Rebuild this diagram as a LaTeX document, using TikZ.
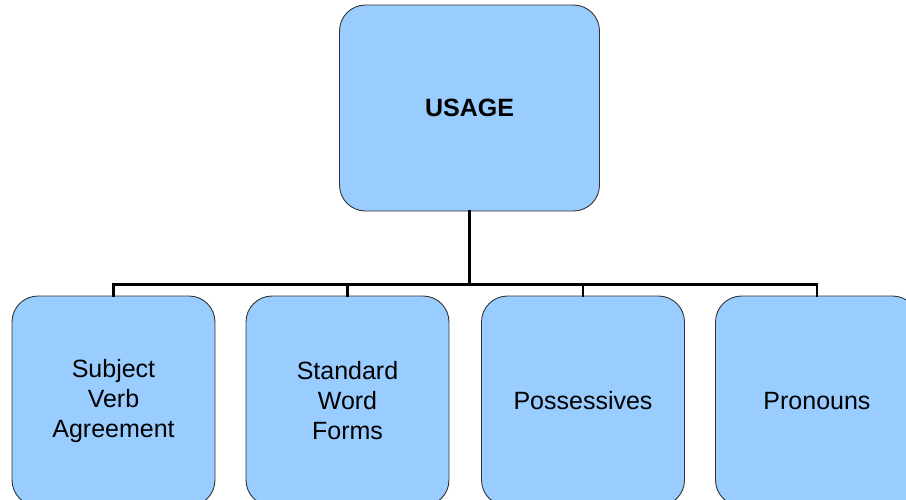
\documentclass[tikz,border=0pt]{standalone}
\usepackage{fontspec}
\setmainfont{Liberation Sans}
\definecolor{boxblue}{HTML}{99CCFF}
\definecolor{boxline}{HTML}{333333}
\tikzset{
  usebox/.style={draw=boxline, line width=0.9pt, fill=boxblue, rounded corners=26pt,
    inner sep=0pt, align=center, font=\fontsize{25}{30}\selectfont},
  conn/.style={draw, line width=2.6pt, line cap=rect}
}
\begin{document}
\begin{tikzpicture}[x=1pt,y=-1pt]
\useasboundingbox (0,0) rectangle (906,499);
\clip (0,0) rectangle (906,499);

\node[usebox, minimum width=260pt, minimum height=206pt] (usage) at (469.5,108) {\textbf{USAGE}};
\node[usebox, minimum width=203pt, minimum height=210pt] (agree) at (113.5,401) {Subject\\Verb\\Agreement};
\node[usebox, minimum width=203pt, minimum height=210pt] (forms) at (347.5,401) {Standard\\Word\\Forms};
\node[usebox, minimum width=203pt, minimum height=210pt] (poss) at (583,401) {Possessives};
\node[usebox, minimum width=203pt, minimum height=210pt] (pron) at (817,401) {Pronouns};

\coordinate (bar) at (469.5,284.5);
\path[conn] (usage.south) -- (bar);
\path[conn] (bar) -| (agree.north);
\path[conn] (bar) -| (forms.north);
\path[conn] (bar) -| (poss.north);
\path[conn] (bar) -| (pron.north);
\end{tikzpicture}
\end{document}
